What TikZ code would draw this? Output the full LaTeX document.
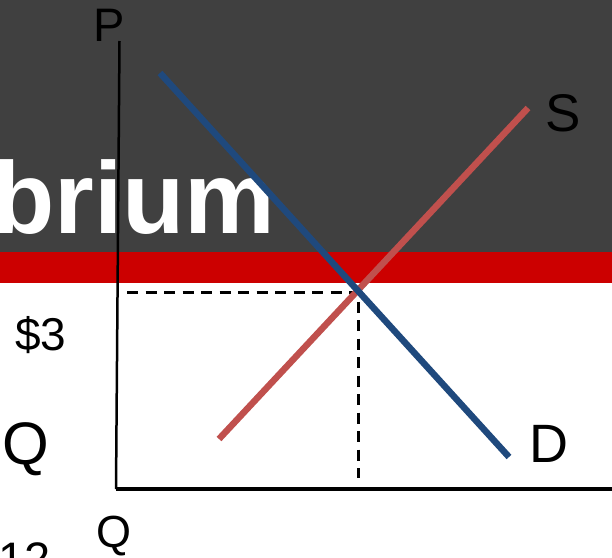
\documentclass[tikz,border=0pt]{standalone}
\usepackage{fontspec}
\setmainfont{Liberation Sans}
\definecolor{slide}{HTML}{404040}
\definecolor{band}{HTML}{CC0000}
\definecolor{demand}{HTML}{1F497D}
\definecolor{supply}{HTML}{C0504D}
\begin{document}
\begin{tikzpicture}[x=1pt,y=-1pt,
    lbl/.style={inner sep=0pt, anchor=base},
    curve/.style={line width=6.5pt}]
    \useasboundingbox (0,0) rectangle (612,557);
    \clip (0,0) rectangle (612,557);
    \coordinate (O) at (116,489);
    \coordinate (Ptop) at (119.5,41);
    \coordinate (Qend) at (612,489);
    \coordinate (D1) at (160,73);
    \coordinate (D2) at (509,457);
    \coordinate (S1) at (219,439);
    \coordinate (S2) at (528,108);
    \coordinate (E) at (358,292); % equilibrium
    \coordinate (Ep) at (127,292);
    \coordinate (Eq) at (358,478);

    \fill[slide] (0,0) rectangle (612,252);
    \fill[band] (0,252) rectangle (612,283);

    \node[lbl, anchor=base west, text=white, font=\fontsize{102}{102}\selectfont\bfseries] (title) at (-8,233) {brium};

    \draw[line width=3pt, dash pattern=on 11pt off 7.5pt] (Ep) -- (E) -- (Eq);
    \draw[curve, supply] (S1) -- (S2);
    \draw[curve, demand] (D1) -- (D2);
    \draw[line width=2.5pt] (Ptop) -- (O);
    \draw[line width=3.5pt] (O) -- (Qend);

    \node[lbl, font=\fontsize{47}{47}\selectfont] (P) at (109,41) {P};
    \node[lbl, font=\fontsize{53}{53}\selectfont] (S) at (563,131) {S};
    \node[lbl, font=\fontsize{54}{54}\selectfont] (D) at (549,462) {D};
    \node[lbl, font=\fontsize{46}{46}\selectfont] (price) at (41,350) {\$3};
    \node[lbl, font=\fontsize{60}{60}\selectfont] (Qbig) at (26,464) {Q};
    \node[lbl, font=\fontsize{45}{45}\selectfont] (Q) at (114,547) {Q};
    \node[lbl, anchor=base west, font=\fontsize{47}{47}\selectfont] (qty) at (-2,575) {12};
\end{tikzpicture}
\end{document}
